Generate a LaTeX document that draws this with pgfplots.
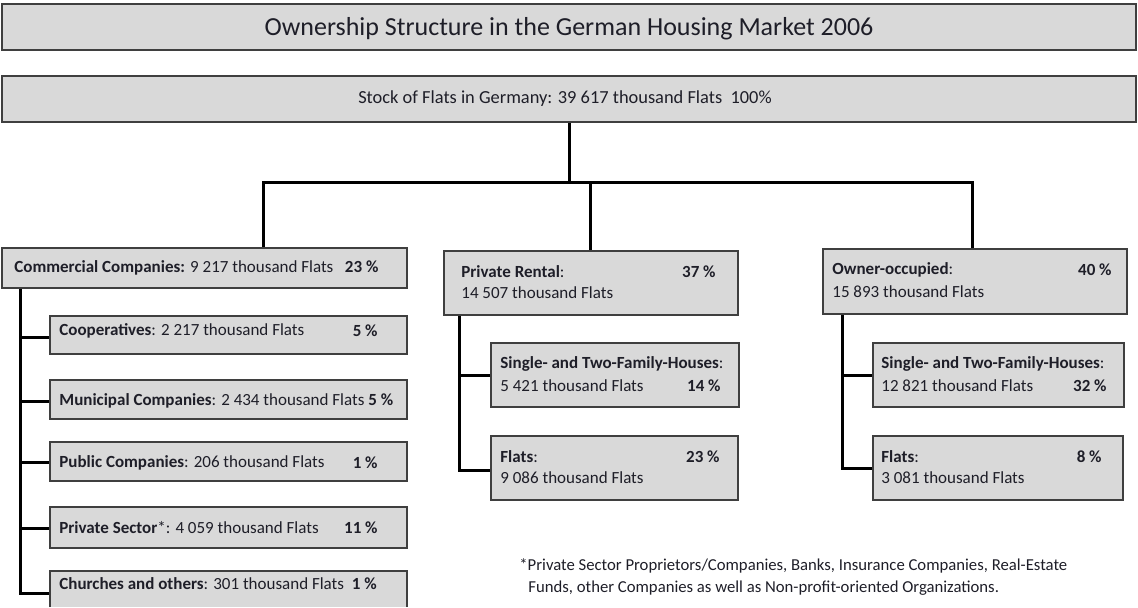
\documentclass[border=0pt]{standalone}
\usepackage{pgfplots}
\pgfplotsset{compat=1.18}
\usepackage{fontspec}
\setmainfont{Carlito}

\definecolor{boxgray}{HTML}{D9D9D9}
\definecolor{boxline}{HTML}{3F3F3F}
\definecolor{txt}{HTML}{1E1E28}

% box: x1, y1, x2, y2 in pixel units (y down)
\newcommand{\obox}[4]{\addplot[fill=boxgray, draw=boxline, line width=1pt] coordinates {(#1,#2) (#3,#2) (#3,#4) (#1,#4)} --cycle;}
\newcommand{\lt}[3]{\node[anchor=west, inner sep=0pt, text=txt] at (axis cs:#1,#2) {#3};}
\newcommand{\rt}[3]{\node[anchor=east, inner sep=0pt, text=txt] at (axis cs:#1,#2) {#3};}

\begin{document}
\begin{tikzpicture}
\begin{axis}[
    width=569pt, height=303.5pt, scale only axis,
    xmin=0, xmax=1138, ymin=0, ymax=607, y dir=reverse,
    axis lines=none, clip=false,
    font=\fontsize{8.5}{10}\selectfont,
]
% connector lines
\addplot[black, line width=1.5pt] coordinates {(569,122) (569,182)};
\addplot[black, line width=1.5pt] coordinates {(263,248) (263,182) (972,182) (972,249)};
\addplot[black, line width=1.5pt] coordinates {(590,182) (590,251)};
\addplot[black, line width=1.5pt] coordinates {(20,288) (20,593) (50,593)};
\addplot[black, line width=1.5pt] coordinates {(20,337) (50,337)};
\addplot[black, line width=1.5pt] coordinates {(20,401) (50,401)};
\addplot[black, line width=1.5pt] coordinates {(20,462) (50,462)};
\addplot[black, line width=1.5pt] coordinates {(20,528) (50,528)};
\addplot[black, line width=1.5pt] coordinates {(459,315) (459,470) (491,470)};
\addplot[black, line width=1.5pt] coordinates {(459,375) (491,375)};
\addplot[black, line width=1.5pt] coordinates {(842,314) (842,468) (873,468)};
\addplot[black, line width=1.5pt] coordinates {(842,375) (873,375)};

% boxes
\obox{2}{4}{1136}{50}
\obox{2}{76}{1136}{122}
\obox{2}{248}{407}{288}
\obox{50}{316}{407}{354}
\obox{50}{380}{407}{419}
\obox{50}{442}{407}{481}
\obox{50}{507}{407}{548}
\addplot[fill=boxgray, draw=none] coordinates {(50,571) (407,571) (407,607) (50,607)} --cycle;
\addplot[draw=boxline, line width=1pt] coordinates {(50,607) (50,571) (407,571) (407,607)};
\obox{444}{251}{738}{315}
\obox{491}{343}{739}{407}
\obox{491}{436}{738}{500}
\obox{823}{249}{1127}{314}
\obox{873}{343}{1124}{407}
\obox{873}{436}{1123}{500}

% texts
\node[text=txt, inner sep=0pt, font=\fontsize{13}{15}\selectfont] at (axis cs:569,29) {Ownership Structure in the German Housing Market 2006};
\node[text=txt, inner sep=0pt, font=\fontsize{9.2}{11}\selectfont] at (axis cs:565,99) {Stock of Flats in Germany: 39 617 thousand Flats\ \ 100\%};

\lt{14}{268}{\textbf{Commercial Companies:} 9 217 thousand Flats\ \ \ \textbf{23 \%}}
\lt{59}{331}{\textbf{Cooperatives}: 2 217 thousand Flats}
\rt{378}{331}{\textbf{5 \%}}
\lt{59}{401}{\textbf{Municipal Companies}: 2 434 thousand Flats \textbf{5 \%}}
\lt{59}{463}{\textbf{Public Companies}: 206 thousand Flats}
\rt{378}{463}{\textbf{1 \%}}
\lt{59}{528}{\textbf{Private Sector}*: 4 059 thousand Flats}
\rt{378}{528}{\textbf{11 \%}}
\lt{59}{584}{\textbf{Churches and others}: 301 thousand Flats\ \ \textbf{1 \%}}

\lt{461}{272}{\textbf{Private Rental}:}
\rt{716}{272}{\textbf{37 \%}}
\lt{461}{293}{14 507 thousand Flats}
\lt{500}{364}{\textbf{Single- and Two-Family-Houses}:}
\lt{500}{386}{5 421 thousand Flats}
\rt{721}{386}{\textbf{14 \%}}
\lt{500}{457}{\textbf{Flats}:}
\rt{720}{457}{\textbf{23 \%}}
\lt{500}{478}{9 086 thousand Flats}

\lt{832}{270}{\textbf{Owner-occupied}:}
\rt{1112}{270}{\textbf{40 \%}}
\lt{832}{292}{15 893 thousand Flats}
\lt{881}{364}{\textbf{Single- and Two-Family-Houses}:}
\lt{881}{386}{12 821 thousand Flats}
\rt{1107}{386}{\textbf{32 \%}}
\lt{881}{457}{\textbf{Flats}:}
\rt{1102}{457}{\textbf{8 \%}}
\lt{881}{478}{3 081 thousand Flats}

\begin{scope}[font=\fontsize{8.35}{10}\selectfont]
\lt{519}{566}{*Private Sector Proprietors/Companies, Banks, Insurance Companies, Real-Estate}
\lt{528}{588}{Funds, other Companies as well as Non-profit-oriented Organizations.}
\end{scope}
\end{axis}
\pgfresetboundingbox
\useasboundingbox (current axis.south west) rectangle (current axis.north east);
\end{tikzpicture}
\end{document}
